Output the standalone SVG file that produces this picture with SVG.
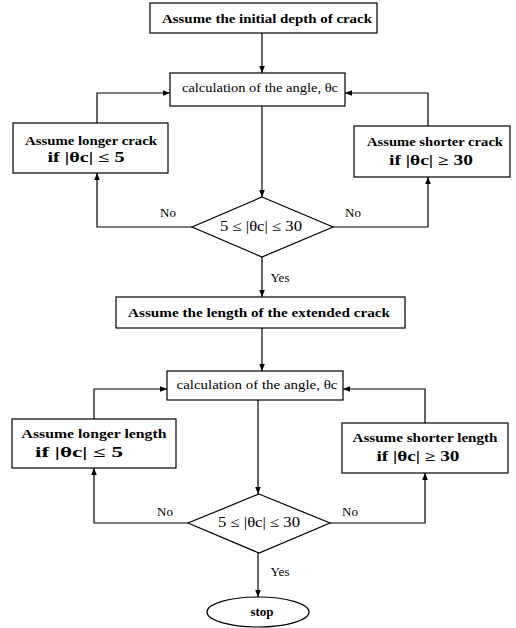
<svg xmlns="http://www.w3.org/2000/svg" width="516" height="628" viewBox="0 0 516 628">
<defs>
<marker id="ah" viewBox="0 0 10 10" refX="10" refY="5" markerWidth="7" markerHeight="7" markerUnits="userSpaceOnUse" orient="auto">
<path d="M0,1 L10,5 L0,9 z" fill="#000"/>
</marker>
<style>
.box{fill:#fff;stroke:#000;stroke-width:1.2}
.c{fill:none;stroke:#000;stroke-width:1.2;marker-end:url(#ah)}
text{font-family:"Liberation Serif","DejaVu Serif",serif;font-size:13px;fill:#000;text-anchor:middle}
.b{font-weight:bold}
.m{font-size:14px}
</style>
</defs>
<rect width="516" height="628" fill="#fff"/>
<g id="connectors">
<path class="c" d="M262,33 V73"/>
<path class="c" d="M97,123 V93 H170"/>
<path class="c" d="M428,126 V93 H345"/>
<path class="c" d="M262,106 V197"/>
<path class="c" d="M192,227 H97 V173"/>
<path class="c" d="M333,227 H428 V177"/>
<path class="c" d="M262,257 V297"/>
<path class="c" d="M262,328 V371"/>
<path class="c" d="M94,419 V389 H167"/>
<path class="c" d="M425,423 V389 H343"/>
<path class="c" d="M258,400 V494"/>
<path class="c" d="M188,523 H94 V468"/>
<path class="c" d="M330,523 H425 V473"/>
<path class="c" d="M258,553 V597"/>
<text x="168" y="217">No</text>
<text x="353" y="217">No</text>
<text x="280" y="282">Yes</text>
<text x="165" y="516">No</text>
<text x="350" y="516">No</text>
<text x="280" y="576">Yes</text>
</g>
<g id="n1"><rect class="box" x="150" y="3" width="227" height="30"/><text class="b" x="267" y="23" textLength="210" lengthAdjust="spacingAndGlyphs">Assume the initial depth of crack</text></g>
<g id="n2"><rect class="box" x="170" y="73" width="175" height="33"/><text x="260" y="92" textLength="156" lengthAdjust="spacingAndGlyphs">calculation of the angle, θc</text></g>
<g id="n3"><rect class="box" x="13" y="123" width="155" height="50"/><text class="b" x="91" y="145" textLength="132" lengthAdjust="spacingAndGlyphs">Assume longer crack</text><text class="b m" x="86" y="162" textLength="77" lengthAdjust="spacingAndGlyphs">if |θc| ≤ 5</text></g>
<g id="n4"><rect class="box" x="354" y="126" width="156" height="51"/><text class="b" x="435" y="146" textLength="136" lengthAdjust="spacingAndGlyphs">Assume shorter crack</text><text class="b m" x="431" y="165" textLength="84" lengthAdjust="spacingAndGlyphs">if |θc| ≥ 30</text></g>
<g id="n5"><path class="box" d="M262,197 L333,227 L262,257 L192,227 z"/><text class="m" x="261" y="231" textLength="82" lengthAdjust="spacingAndGlyphs">5 ≤ |θc| ≤ 30</text></g>
<g id="n6"><rect class="box" x="116" y="297" width="289" height="31"/><text class="b" x="259" y="317" textLength="262" lengthAdjust="spacingAndGlyphs">Assume the length of the extended crack</text></g>
<g id="n7"><rect class="box" x="167" y="371" width="176" height="29"/><text x="257" y="389" textLength="161" lengthAdjust="spacingAndGlyphs">calculation of the angle, θc</text></g>
<g id="n8"><rect class="box" x="12" y="419" width="164" height="49"/><text class="b" x="94" y="438" textLength="145" lengthAdjust="spacingAndGlyphs">Assume longer length</text><text class="b m" x="79" y="457" textLength="88" lengthAdjust="spacingAndGlyphs">if |θc| ≤ 5</text></g>
<g id="n9"><rect class="box" x="342" y="423" width="166" height="50"/><text class="b" x="425" y="442" textLength="145" lengthAdjust="spacingAndGlyphs">Assume shorter length</text><text class="b m" x="418" y="461" textLength="83" lengthAdjust="spacingAndGlyphs">if |θc| ≥ 30</text></g>
<g id="n10"><path class="box" d="M259,494 L330,523 L259,553 L188,523 z"/><text class="m" x="259" y="527" textLength="82" lengthAdjust="spacingAndGlyphs">5 ≤ |θc| ≤ 30</text></g>
<g id="n11"><ellipse class="box" cx="258" cy="612" rx="51" ry="15"/><text class="b" x="262" y="616">stop</text></g>
</svg>
